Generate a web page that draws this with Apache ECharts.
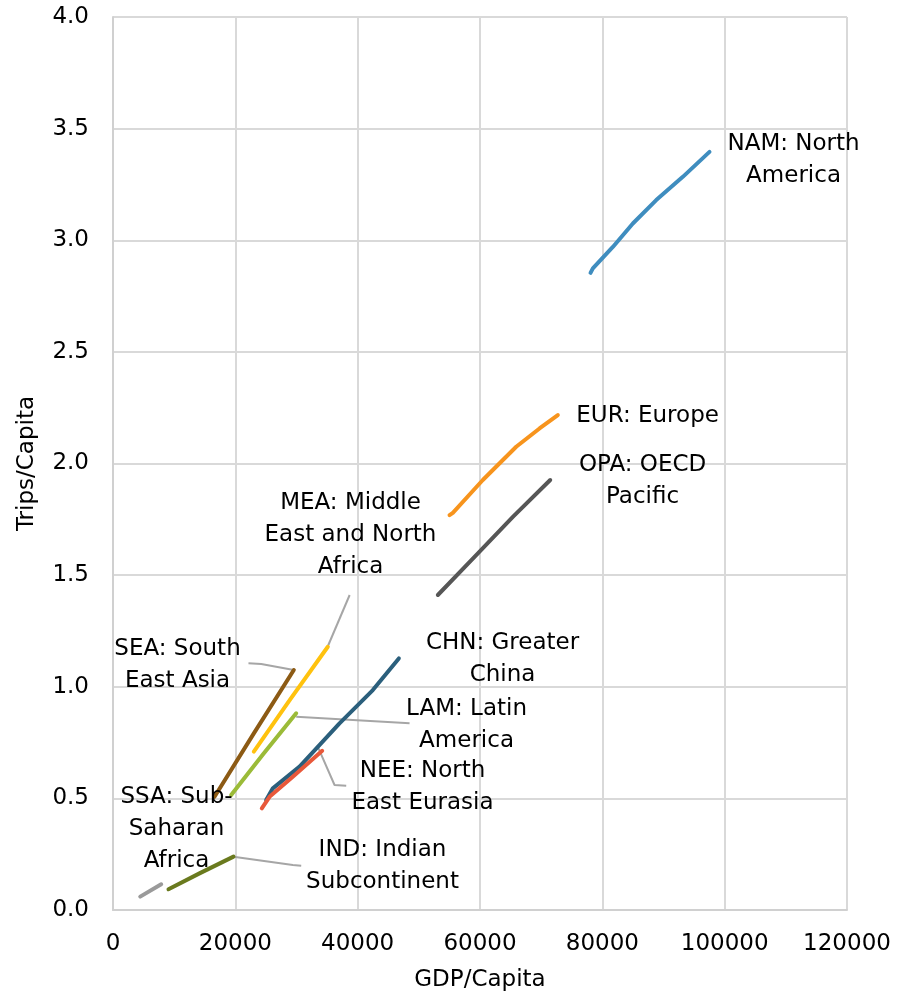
<!DOCTYPE html>
<html><head><meta charset="utf-8">
<script src="https://cdn.jsdelivr.net/npm/echarts@6/dist/echarts.min.js"></script>
<style>html,body{margin:0;padding:0;background:#fff}#c{width:897px;height:1000px}</style>
</head><body><div id="c"></div>
<script>
// ---- data (GDP/Capita, Trips/Capita) ----
const xTicks = [0, 20000, 40000, 60000, 80000, 100000, 120000];
const yTicks = [0, 0.5, 1.0, 1.5, 2.0, 2.5, 3.0, 3.5, 4.0];
const NAM = [[78070,2.854],[78450,2.874],[81720,2.970],[84990,3.075],[88810,3.180],[93160,3.284],[97520,3.396]];
const EUR = [[55020,1.769],[55560,1.779],[60460,1.926],[65920,2.075],[69730,2.157],[72720,2.217]];
const OPA = [[53110,1.411],[59380,1.590],[65370,1.761],[71480,1.926]];
const MEA = [[23020,0.709],[29000,0.945],[35120,1.179]];
const SEA = [[16600,0.507],[23000,0.79],[29560,1.075]];
const LAM = [[19320,0.515],[24600,0.70],[29950,0.881]];
const CHN = [[25040,0.493],[26130,0.545],[30500,0.642],[37030,0.836],[42480,0.985],[46730,1.127]];
const NEE = [[24330,0.455],[25590,0.507],[29400,0.597],[34200,0.713]];
const SSA = [[4450,0.060],[7880,0.115]];
const IND = [[9070,0.093],[14140,0.164],[19700,0.239]];
const regionNames = ['NAM: North\nAmerica','EUR: Europe','OPA: OECD\nPacific','MEA: Middle\nEast and North\nAfrica','SEA: South\nEast Asia','LAM: Latin\nAmerica','CHN: Greater\nChina','NEE: North\nEast Eurasia','SSA: Sub-\nSaharan\nAfrica','IND: Indian\nSubcontinent'];

// ---- annotation placement (label anchors and leader lines, in data units) ----
const labelAnchors = [[111260,3.359],[87400,2.213],[86580,1.921],[38830,1.679],[10550,1.097],[57800,0.828],[63680,1.124],[50600,0.551],[10380,0.363],[44060,0.197]];
const leaderMEA = [[38690,1.411],[35070,1.178]];
const leaderSEA = [[22150,1.105],[24230,1.102],[29560,1.075]];
const leaderLAM = [[29950,0.866],[48480,0.836]];
const leaderNEE = [[33490,0.731],[36220,0.560],[38130,0.557]];
const leaderIND = [[19700,0.239],[29400,0.2015],[30770,0.198]];

const FONT = 'DejaVu Sans';
const seriesDefs = [
  [NAM,'#3F8DBF'],[EUR,'#F7941D'],[OPA,'#565656'],[MEA,'#FFC20E'],[SEA,'#8C5A14'],
  [LAM,'#9BBB38'],[CHN,'#2B5F7C'],[NEE,'#E8583A'],[SSA,'#9A9A9A'],[IND,'#6A7A1E']
];
const series = [];
[leaderMEA,leaderSEA,leaderLAM,leaderNEE,leaderIND].forEach(d=>{
  series.push({type:'line',data:d,showSymbol:false,silent:true,lineStyle:{color:'#A6A6A6',width:2},z:2});
});
seriesDefs.forEach(([d,c])=>{
  series.push({type:'line',data:d,smooth:false,showSymbol:false,lineStyle:{color:c,width:4,cap:'round',join:'round'},z:3});
});
series.push({
  type:'scatter',symbolSize:0,z:5,silent:true,
  itemStyle:{opacity:1,color:'transparent'},
  data:labelAnchors.map((p,i)=>({value:p,name:regionNames[i]})),
  label:{show:true,position:'inside',formatter:p=>p.name,color:'#000',opacity:1,textBorderWidth:0,fontFamily:FONT,fontSize:23,lineHeight:32,align:'center',verticalAlign:'middle'}
});

const chart = echarts.init(document.getElementById('c'),null,{renderer:'canvas'});
chart.setOption({
  animation:false,
  grid:{left:113,right:50,top:17,bottom:90,containLabel:false},
  xAxis:{type:'value',min:xTicks[0],max:xTicks[xTicks.length-1],interval:xTicks[1]-xTicks[0],
    name:'GDP/Capita',nameLocation:'middle',nameGap:59,nameTextStyle:{fontFamily:FONT,fontSize:23,color:'#000'},
    axisLine:{show:true,lineStyle:{color:'#D0D0D0',width:2}},axisTick:{show:false},
    axisLabel:{fontFamily:FONT,fontSize:23,color:'#000',margin:23,formatter:v=>String(v)},
    splitLine:{show:true,lineStyle:{color:'#D9D9D9',width:2}}},
  yAxis:{type:'value',min:yTicks[0],max:yTicks[yTicks.length-1],interval:yTicks[1]-yTicks[0],
    name:'Trips/Capita',nameLocation:'middle',nameGap:74,nameTextStyle:{fontFamily:FONT,fontSize:23,color:'#000'},
    axisLine:{show:true,lineStyle:{color:'#D0D0D0',width:2}},axisTick:{show:false},
    axisLabel:{fontFamily:FONT,fontSize:23,color:'#000',margin:24,formatter:v=>v.toFixed(1)},
    splitLine:{show:true,lineStyle:{color:'#D9D9D9',width:2}}},
  series:series
});
</script></body></html>
